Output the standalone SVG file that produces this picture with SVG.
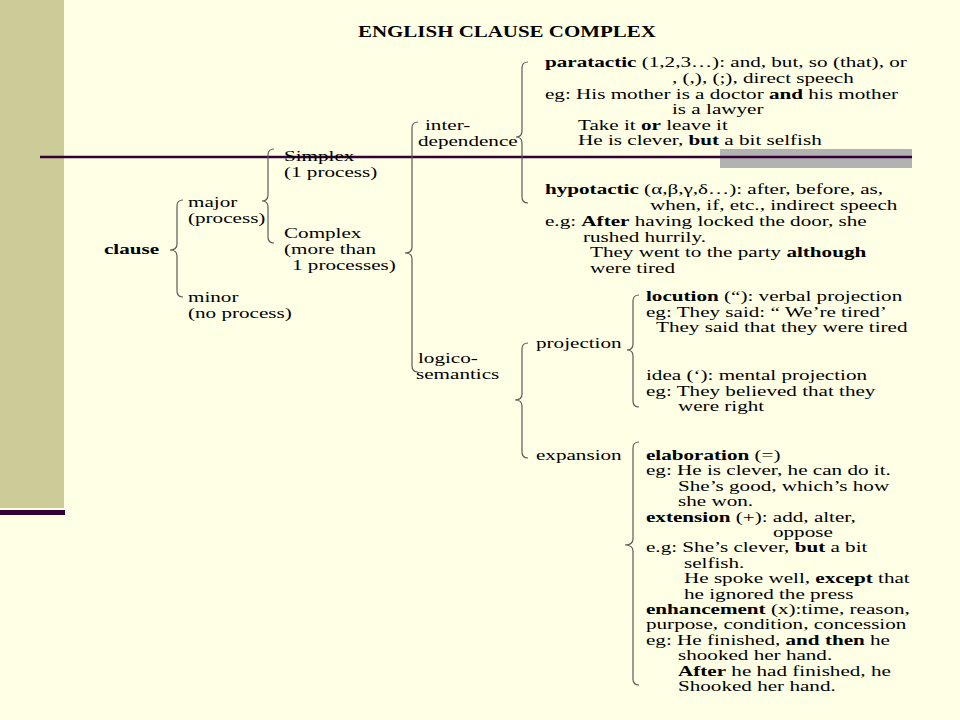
<svg xmlns="http://www.w3.org/2000/svg" width="960" height="720" viewBox="0 0 960 720">
<style>
.t{font-family:"Liberation Serif","Times New Roman",serif;font-size:14px;fill:#000}
.h{font-family:"Liberation Serif","Times New Roman",serif;font-size:16px;font-weight:bold;fill:#000}
.b{font-weight:bold}
.brace{fill:none;stroke:#5a5a5a;stroke-width:1.2}
</style>
<rect x="0" y="0" width="960" height="720" fill="#FFFFE5"/>
<rect x="0" y="0" width="64" height="508" fill="#CCCC99"/>
<rect x="0" y="510" width="65" height="5" fill="#330033"/>
<rect x="720" y="149" width="192" height="19" fill="#B2B2B2"/>
<line x1="40" y1="157" x2="912" y2="157" stroke="#330033" stroke-width="2.5"/>

<g id="connectors">
<path class="brace" d="M183 200 Q177 200 177 206 L177 244 Q177 250 170 250 Q177 250 177 256 L177 291 Q177 297 183 297"/>
<path class="brace" d="M274 149 Q268 149 268 155 L268 195 Q268 201 262 201 Q268 201 268 207 L268 237 Q268 243 274 243"/>
<path class="brace" d="M418 122 Q412 122 412 128 L412 247 Q412 253 405 253 Q412 253 412 259 L412 366 Q412 372 418 372"/>
<path class="brace" d="M528 62 Q522 62 522 68 L522 131 Q522 137 516 137 Q522 137 522 143 L522 197 Q522 203 528 203"/>
<path class="brace" d="M528 343 Q522 343 522 349 L522 394 Q522 400 515 400 Q522 400 522 406 L522 452 Q522 458 528 458"/>
<path class="brace" d="M639 295 Q633 295 633 301 L633 344 Q633 350 627 350 Q633 350 633 356 L633 401 Q633 407 639 407"/>
<path class="brace" d="M639 442 Q633 442 633 448 L633 539 Q633 545 625 545 Q633 545 633 551 L633 679 Q633 685 639 685"/>
</g>

<g id="title"><text class="h" transform="translate(358 37) scale(1.31 1)">ENGLISH CLAUSE COMPLEX</text></g>

<g id="clause"><text class="t b" transform="translate(104 254) scale(1.51 1)">clause</text></g>
<g id="major">
<text class="t" transform="translate(188 207) scale(1.51 1)">major</text>
<text class="t" transform="translate(188 223) scale(1.51 1)">(process)</text>
</g>
<g id="minor">
<text class="t" transform="translate(188 302) scale(1.51 1)">minor</text>
<text class="t" transform="translate(188 318) scale(1.51 1)">(no process)</text>
</g>
<g id="simplex">
<text class="t" transform="translate(284 161) scale(1.51 1)">Simplex</text>
<text class="t" transform="translate(284 177) scale(1.51 1)">(1 process)</text>
</g>
<g id="complex">
<text class="t" transform="translate(284 238) scale(1.51 1)">Complex</text>
<text class="t" transform="translate(284 254) scale(1.51 1)">(more than</text>
<text class="t" transform="translate(292 270) scale(1.51 1)">1 processes)</text>
</g>

<g id="interdependence">
<text class="t" transform="translate(425 130) scale(1.51 1)">inter-</text>
<text class="t" transform="translate(418 146) scale(1.51 1)">dependence</text>
</g>
<g id="logico-semantics">
<text class="t" transform="translate(418 363) scale(1.51 1)">logico-</text>
<text class="t" transform="translate(416 379) scale(1.51 1)">semantics</text>
</g>

<g id="paratactic">
<text class="t" transform="translate(545 67) scale(1.51 1)"><tspan class="b">paratactic</tspan> (1,2,3…): and, but, so (that), or</text>
<text class="t" transform="translate(672 83) scale(1.51 1)">, (,), (;), direct speech</text>
<text class="t" transform="translate(545 98.5) scale(1.51 1)">eg: His mother is a doctor <tspan class="b">and</tspan> his mother</text>
<text class="t" transform="translate(672 114) scale(1.51 1)">is a lawyer</text>
<text class="t" transform="translate(578 129.5) scale(1.51 1)">Take it <tspan class="b">or</tspan> leave it</text>
<text class="t" transform="translate(578 145) scale(1.51 1)">He is clever, <tspan class="b">but</tspan> a bit selfish</text>
</g>

<g id="hypotactic">
<text class="t" transform="translate(545 194) scale(1.51 1)"><tspan class="b">hypotactic</tspan> (α,β,γ,δ…): after, before, as,</text>
<text class="t" transform="translate(650 210) scale(1.51 1)">when, if, etc., indirect speech</text>
<text class="t" transform="translate(545 226) scale(1.51 1)">e.g: <tspan class="b">After</tspan> having locked the door, she</text>
<text class="t" transform="translate(583 241.5) scale(1.51 1)">rushed hurrily.</text>
<text class="t" transform="translate(590 257) scale(1.51 1)">They went to the party <tspan class="b">although</tspan></text>
<text class="t" transform="translate(590 272.5) scale(1.51 1)">were tired</text>
</g>

<g id="projection"><text class="t" transform="translate(536 348) scale(1.51 1)">projection</text></g>
<g id="locution">
<text class="t" transform="translate(646 301) scale(1.51 1)"><tspan class="b">locution</tspan> (“): verbal projection</text>
<text class="t" transform="translate(646 316.5) scale(1.51 1)">eg: They said: “ We’re tired’</text>
<text class="t" transform="translate(656 332) scale(1.51 1)">They said that they were tired</text>
</g>
<g id="idea">
<text class="t" transform="translate(646 380) scale(1.51 1)">idea (‘): mental projection</text>
<text class="t" transform="translate(646 395.5) scale(1.51 1)">eg: They believed that they</text>
<text class="t" transform="translate(678 411) scale(1.51 1)">were right</text>
</g>

<g id="expansion"><text class="t" transform="translate(536 460) scale(1.51 1)">expansion</text></g>
<g id="elaboration">
<text class="t" transform="translate(646 460) scale(1.51 1)"><tspan class="b">elaboration</tspan> (=)</text>
<text class="t" transform="translate(646 475.4) scale(1.51 1)">eg: He is clever, he can do it.</text>
<text class="t" transform="translate(678 490.8) scale(1.51 1)">She’s good, which’s how</text>
<text class="t" transform="translate(678 506.2) scale(1.51 1)">she won.</text>
</g>
<g id="extension">
<text class="t" transform="translate(646 521.6) scale(1.51 1)"><tspan class="b">extension</tspan> (+): add, alter,</text>
<text class="t" transform="translate(773 537) scale(1.51 1)">oppose</text>
<text class="t" transform="translate(646 552.4) scale(1.51 1)">e.g: She’s clever, <tspan class="b">but</tspan> a bit</text>
<text class="t" transform="translate(684 567.8) scale(1.51 1)">selfish.</text>
<text class="t" transform="translate(684 583.2) scale(1.51 1)">He spoke well, <tspan class="b">except</tspan> that</text>
<text class="t" transform="translate(684 598.6) scale(1.51 1)">he ignored the press</text>
</g>
<g id="enhancement">
<text class="t" transform="translate(646 614) scale(1.51 1)"><tspan class="b">enhancement</tspan> (x):time, reason,</text>
<text class="t" transform="translate(646 629.4) scale(1.51 1)">purpose, condition, concession</text>
<text class="t" transform="translate(646 644.8) scale(1.51 1)">eg: He finished, <tspan class="b">and then</tspan> he</text>
<text class="t" transform="translate(678 660.2) scale(1.51 1)">shooked her hand.</text>
<text class="t" transform="translate(678 675.6) scale(1.51 1)"><tspan class="b">After</tspan> he had finished, he</text>
<text class="t" transform="translate(678 691) scale(1.51 1)">Shooked her hand.</text>
</g>
</svg>
